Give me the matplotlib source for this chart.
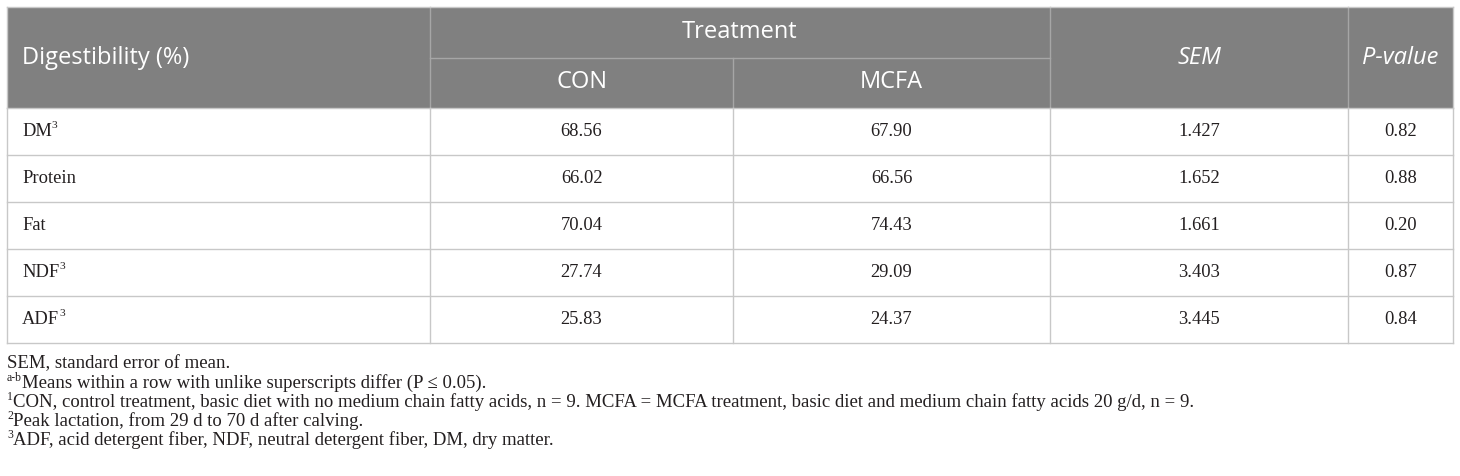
import matplotlib.pyplot as plt
from matplotlib.patches import Rectangle

# --- Table content ---
row_labels = ["DM", "Protein", "Fat", "NDF", "ADF"]
row_sups = ["3", "", "", "3", "3"]
con_vals = [68.56, 66.02, 70.04, 27.74, 25.83]
mcfa_vals = [67.90, 66.56, 74.43, 29.09, 24.37]
sem_vals = [1.427, 1.652, 1.661, 3.403, 3.445]
p_vals = [0.82, 0.88, 0.20, 0.87, 0.84]

header_first = "Digestibility (%)"
header_group = "Treatment"
header_sub = ["CON", "MCFA"]
header_sem = "SEM"
header_p = "P-value"

footnotes = [
    ("", "SEM, standard error of mean."),
    ("a-b", "Means within a row with unlike superscripts differ (P \u2264 0.05)."),
    ("1", "CON, control treatment, basic diet with no medium chain fatty acids, n = 9. "
          "MCFA = MCFA treatment, basic diet and medium chain fatty acids 20 g/d, n = 9."),
    ("2", "Peak lactation, from 29 d to 70 d after calving."),
    ("3", "ADF, acid detergent fiber, NDF, neutral detergent fiber, DM, dry matter."),
]

# --- Layout (pixels) ---
W, H = 1460, 476
left, right = 7, 1453
col_x = [7, 430, 733, 1050, 1348, 1453]
top, mid, head_bot = 7, 58, 108
row_h = 47
foot_y0, foot_dy = 364, 19

header_bg = "#808080"
grid = "#c8c8c8"
head_grid = "#a6a6a6"
text_c = "#231f20"
serif = ["Liberation Serif", "DejaVu Serif"]
sans = ["Open Sans", "DejaVu Sans"]

fig = plt.figure(figsize=(W / 100, H / 100), dpi=100)
ax = fig.add_axes([0, 0, 1, 1])
ax.set_xlim(0, W)
ax.set_ylim(H, 0)
ax.axis("off")

# header background
ax.add_patch(Rectangle((left, top), right - left, head_bot - top,
                       facecolor=header_bg, edgecolor="none"))
# header inner lines
ax.plot([col_x[1], col_x[3]], [mid, mid], color=head_grid, lw=1)
for x in [col_x[1], col_x[3], col_x[4]]:
    ax.plot([x, x], [top, head_bot], color=head_grid, lw=1)
ax.plot([col_x[2], col_x[2]], [mid, head_bot], color=head_grid, lw=1)

# body grid
n = len(row_labels)
bottom = head_bot + n * row_h
for i in range(n + 1):
    y = head_bot + i * row_h
    ax.plot([left, right], [y, y], color=grid, lw=1)
for x in col_x:
    ax.plot([x, x], [head_bot, bottom], color=grid, lw=1)
ax.plot([left, right], [top, top], color=grid, lw=1)
ax.plot([left, left], [top, head_bot], color=grid, lw=1)
ax.plot([right, right], [top, head_bot], color=grid, lw=1)

# header text
hfs = 17
ax.text(22, 58, header_first, color="white", fontsize=hfs, family=sans,
        ha="left", va="center")
ax.text((col_x[1] + col_x[3]) / 2, 32, header_group, color="white", fontsize=hfs,
        family=sans, ha="center", va="center")
for j, lab in enumerate(header_sub):
    ax.text((col_x[1 + j] + col_x[2 + j]) / 2, 82, lab, color="white", fontsize=hfs,
            family=sans, ha="center", va="center")
ax.text((col_x[3] + col_x[4]) / 2, 58, header_sem, color="white", fontsize=hfs,
        family=sans, style="italic", ha="center", va="center")
ax.text((col_x[4] + col_x[5]) / 2, 58, header_p, color="white", fontsize=hfs,
        family=sans, style="italic", ha="center", va="center")

fig.canvas.draw()
renderer = fig.canvas.get_renderer()
inv = ax.transData.inverted()


def text_right_x(t):
    bb = t.get_window_extent(renderer)
    return inv.transform((bb.x1, bb.y0))[0]


# body text
bfs = 13.3
for i in range(n):
    yc = head_bot + i * row_h + row_h / 2
    t = ax.text(22, yc, row_labels[i], color=text_c, fontsize=bfs, family=serif,
                ha="left", va="center")
    if row_sups[i]:
        xr = text_right_x(t)
        ax.text(xr, yc - 6, row_sups[i], color=text_c, fontsize=bfs * 0.62,
                family=serif, ha="left", va="center")
    cells = [f"{con_vals[i]:.2f}", f"{mcfa_vals[i]:.2f}",
             f"{sem_vals[i]:.3f}", f"{p_vals[i]:.2f}"]
    for j, s in enumerate(cells):
        ax.text((col_x[1 + j] + col_x[2 + j]) / 2, yc, s, color=text_c,
                fontsize=bfs, family=serif, ha="center", va="center")

# footnotes
ffs = 13.5
for k, (sup, txt) in enumerate(footnotes):
    y = foot_y0 + k * foot_dy
    x = 7
    if sup:
        ts = ax.text(x, y - 5, sup, color=text_c, fontsize=ffs * 0.62,
                     family=serif, ha="left", va="center")
        fig.canvas.draw()
        x = text_right_x(ts)
    ax.text(x, y, txt, color=text_c, fontsize=ffs, family=serif,
            ha="left", va="center")

fig.savefig("out.png", dpi=100)
